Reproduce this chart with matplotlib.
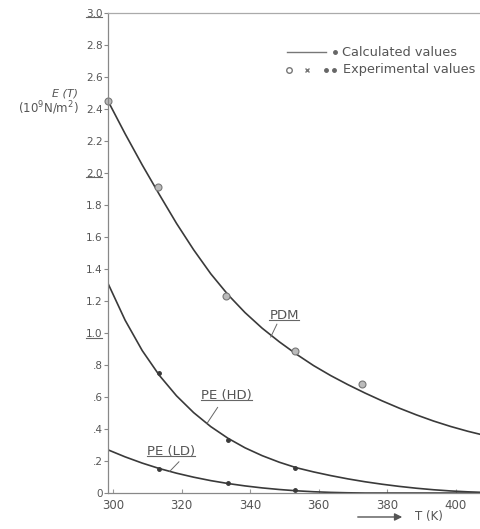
import numpy as np
import matplotlib
matplotlib.use('Agg')
import matplotlib.pyplot as plt
from matplotlib.lines import Line2D
from matplotlib.patches import FancyArrowPatch

plt.rcParams['font.family'] = ['DejaVu Sans']

T_grid = [298.5, 303.5, 308.5, 313.5, 318.5, 323.5, 328.5, 333.5, 338.5, 343.5, 348.5, 353.5,
          358.5, 363.5, 368.5, 373.5, 378.5, 383.5, 388.5, 393.5, 398.5, 403.5, 407.3]
E_pdm = [2.45, 2.245, 2.05, 1.865, 1.685, 1.52, 1.37, 1.24, 1.1275, 1.03, 0.945, 0.8675,
         0.7965, 0.734, 0.6775, 0.625, 0.576, 0.5305, 0.4885, 0.45, 0.416, 0.386, 0.366]
E_hd = [1.31, 1.08, 0.89, 0.735, 0.6075, 0.5025, 0.415, 0.3425, 0.2825, 0.2335, 0.1925, 0.158,
        0.132, 0.109, 0.0885, 0.0705, 0.055, 0.0415, 0.030, 0.0205, 0.013, 0.0075, 0.0045]
E_ld = [0.27, 0.226, 0.187, 0.153, 0.124, 0.099, 0.0775, 0.0595, 0.0445, 0.032, 0.022, 0.014,
        0.008, 0.004, 0.0015, 0.0, 0.0, 0.0, 0.0, 0.0, 0.0, 0.0, 0.0]

# Valores experimentales
T_pdm_exp = [298.5, 313, 333, 353, 372.5]
E_pdm_exp = [2.45, 1.91, 1.23, 0.89, 0.68]
T_pe_exp = [313.5, 333.6, 353]
E_hd_exp = [0.75, 0.33, 0.155]
E_ld_exp = [0.148, 0.06, 0.018]

xticks = [300, 320, 340, 360, 380, 400]
yticks = [0, 0.2, 0.4, 0.6, 0.8, 1.0, 1.2, 1.4, 1.6, 1.8, 2.0, 2.2, 2.4, 2.6, 2.8, 3.0]
ylabels = ['0', '.2', '.4', '.6', '.8', '1.0', '1.2', '1.4', '1.6', '1.8',
           '2.0', '2.2', '2.4', '2.6', '2.8', '3.0']

ink = '#3a3a3a'
txt = '#555555'

fig = plt.figure(figsize=(4.81, 5.29), dpi=100)
ax = fig.add_axes([0.2245, 0.068, 0.775, 0.9075])

ax.plot(T_grid, E_pdm, color=ink, lw=1.2)
ax.plot(T_grid, E_hd, color=ink, lw=1.2)
ax.plot(T_grid, E_ld, color=ink, lw=1.2)

ax.plot(T_pdm_exp, E_pdm_exp, 'o', ms=5, mfc='#bbbbbb', mec='#777777', mew=0.8, clip_on=False)
ax.plot(T_pe_exp, E_hd_exp, 'o', ms=2.5, color=ink)
ax.plot(T_pe_exp, E_ld_exp, 'o', ms=2.5, color=ink)

ax.set_xlim(298.5, 407.3)
ax.set_ylim(0, 3.0)
ax.set_xticks(xticks)
ax.set_yticks(yticks)
ax.set_yticklabels(ylabels)
ax.tick_params(axis='y', direction='out', length=3, color='#888888', labelsize=7.5, labelcolor=txt, pad=1)
ax.tick_params(axis='x', direction='in', length=3, color='#999999', labelsize=8.5, labelcolor=txt, pad=4)

for s in ['left', 'bottom', 'top']:
    ax.spines[s].set_color('#888888')
    ax.spines[s].set_linewidth(0.9)
ax.spines['top'].set_color('#aaaaaa')
ax.spines['right'].set_visible(False)

# Etiqueta del eje y
fig.text(0.163, 0.824, 'E (T)', ha='right', va='center', fontsize=8, color=txt, style='italic')
fig.text(0.163, 0.796, r'(10$^9$N/m$^2$)', ha='right', va='center', fontsize=8.5, color=txt)

# Etiqueta del eje x con flecha
fig.add_artist(FancyArrowPatch((0.738, 0.0227), (0.842, 0.0227), transform=fig.transFigure,
                               arrowstyle='-|>', color='#555555', lw=1.0, mutation_scale=11))
fig.text(0.862, 0.0227, 'T (K)', ha='left', va='center', fontsize=8.5, color=txt)

# Etiquetas de las curvas con línea guía
labels = [
    ax.text(349.9, 1.11, 'PDM', ha='center', va='center', fontsize=9.5, color=txt),
    ax.text(333.0, 0.61, 'PE (HD)', ha='center', va='center', fontsize=9.5, color=txt),
    ax.text(317.0, 0.26, 'PE (LD)', ha='center', va='center', fontsize=9.5, color=txt),
]
leaders = [((347.8, 1.055), (346.0, 0.975)),
           ((330.5, 0.535), (327.4, 0.435)),
           ((319.2, 0.195), (316.5, 0.135))]
for (x0, y0), (x1, y1) in leaders:
    ax.plot([x0, x1], [y0, y1], color='#666666', lw=0.7)

# Leyenda
yl1, yl2 = 0.9017, 0.8677
fig.add_artist(Line2D([0.597, 0.678], [yl1, yl1], color='#777777', lw=1.0))
fig.add_artist(Line2D([0.696], [yl1], marker='o', ms=2.5, color='#666666', ls='none'))
fig.text(0.711, yl1, 'Calculated values', ha='left', va='center', fontsize=9.3, color=txt)
fig.add_artist(Line2D([0.601], [yl2], marker='o', ms=4, mfc='none', mec='#777777', ls='none'))
fig.add_artist(Line2D([0.638], [yl2], marker='x', ms=3.5, mec='#777777', ls='none'))
fig.add_artist(Line2D([0.678, 0.694], [yl2, yl2], marker='o', ms=2.5, color='#666666', ls='none'))
fig.text(0.713, yl2, 'Experimental values', ha='left', va='center', fontsize=9.3, color=txt)

# Subrayados (etiquetas de curva y 1.0, 2.0, 3.0)
fig.canvas.draw()
to_underline = labels + [t for t in ax.get_yticklabels() if t.get_text() in ('1.0', '2.0', '3.0')]
inv = fig.transFigure.inverted()
for t in to_underline:
    bb = t.get_window_extent()
    (x0, y0), (x1, y1) = inv.transform([(bb.x0, bb.y0 + 1.5), (bb.x1, bb.y1)])
    fig.add_artist(Line2D([x0, x1], [y0, y0], color='#666666', lw=0.8))

fig.savefig('out.png', dpi=100)
